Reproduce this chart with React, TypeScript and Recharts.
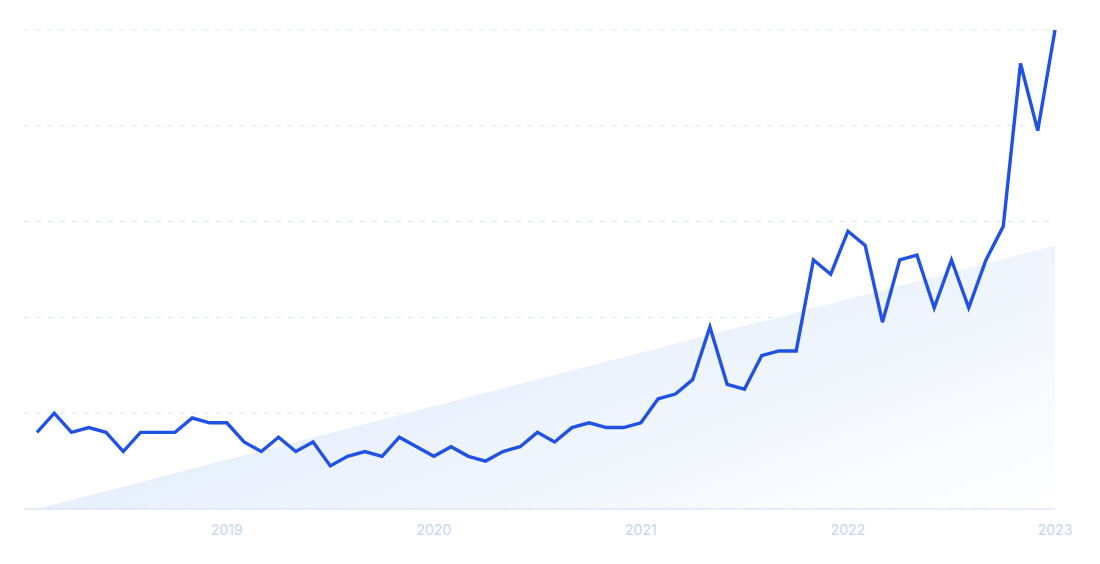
import React from 'react';
import {
  ComposedChart,
  Line,
  Area,
  XAxis,
  YAxis,
  CartesianGrid,
} from 'recharts';

// monthly points, Feb 2018 .. Jan 2023
const MONTHS = [
  '2018-02', '2018-03', '2018-04', '2018-05', '2018-06', '2018-07', '2018-08', '2018-09', '2018-10', '2018-11', '2018-12',
  '2019-01', '2019-02', '2019-03', '2019-04', '2019-05', '2019-06', '2019-07', '2019-08', '2019-09', '2019-10', '2019-11', '2019-12',
  '2020-01', '2020-02', '2020-03', '2020-04', '2020-05', '2020-06', '2020-07', '2020-08', '2020-09', '2020-10', '2020-11', '2020-12',
  '2021-01', '2021-02', '2021-03', '2021-04', '2021-05', '2021-06', '2021-07', '2021-08', '2021-09', '2021-10', '2021-11', '2021-12',
  '2022-01', '2022-02', '2022-03', '2022-04', '2022-05', '2022-06', '2022-07', '2022-08', '2022-09', '2022-10', '2022-11', '2022-12',
  '2023-01',
];

const VALUES = [
  16, 20, 16, 17, 16, 12, 16, 16, 16, 19, 18,
  18, 14, 12, 15, 12, 14, 9, 11, 12, 11, 15, 13,
  11, 13, 11, 10, 12, 13, 16, 14, 17, 18, 17, 17,
  18, 23, 24, 27, 38, 26, 25, 32, 33, 33, 52, 49,
  58, 55, 39, 52, 53, 42, 52, 42, 52, 59, 93, 79,
  100,
];

// trend line end points (first and last month)
const TREND_START = 0;
const TREND_END = 55;

const YEAR_TICKS = ['2019-01', '2020-01', '2021-01', '2022-01', '2023-01'];
const Y_TICKS = [0, 20, 40, 60, 80, 100];

const data = MONTHS.map((month, i) => ({
  month,
  value: VALUES[i],
  trend: i === 0 ? TREND_START : i === MONTHS.length - 1 ? TREND_END : null,
}));

export default function App() {
  return (
    <div style={{ position: 'absolute', left: 0, top: 0, background: '#fff' }}>
      <ComposedChart
        width={1100}
        height={564}
        data={data}
        margin={{ top: 30, right: 45, bottom: 25, left: 24 }}
      >
        <defs>
          <linearGradient id="trendFill" x1="0" y1="0.3" x2="1" y2="1">
            <stop offset="0%" stopColor="#dbe8fb" />
            <stop offset="100%" stopColor="#ffffff" />
          </linearGradient>
        </defs>
        <CartesianGrid
          vertical={false}
          stroke="#dbe5f8"
          strokeDasharray="5 7"
        />
        <XAxis
          dataKey="month"
          ticks={YEAR_TICKS}
          tickFormatter={(m: string) => m.slice(0, 4)}
          interval={0}
          padding={{ left: 13, right: 0 }}
          tickLine={false}
          axisLine={{ stroke: '#d4e0f9' }}
          tickMargin={10}
          tick={{ fill: '#c6d3f4', fontSize: 14, fontFamily: 'Inter, sans-serif' }}
        />
        <YAxis hide domain={[0, 100]} ticks={Y_TICKS} />
        <Area
          type="linear"
          dataKey="trend"
          connectNulls
          stroke="none"
          fill="url(#trendFill)"
          fillOpacity={1}
          isAnimationActive={false}
          dot={false}
          activeDot={false}
        />
        <Line
          type="linear"
          dataKey="value"
          stroke="#2152e3"
          strokeWidth={3.4}
          dot={false}
          activeDot={false}
          isAnimationActive={false}
        />
      </ComposedChart>
    </div>
  );
}
